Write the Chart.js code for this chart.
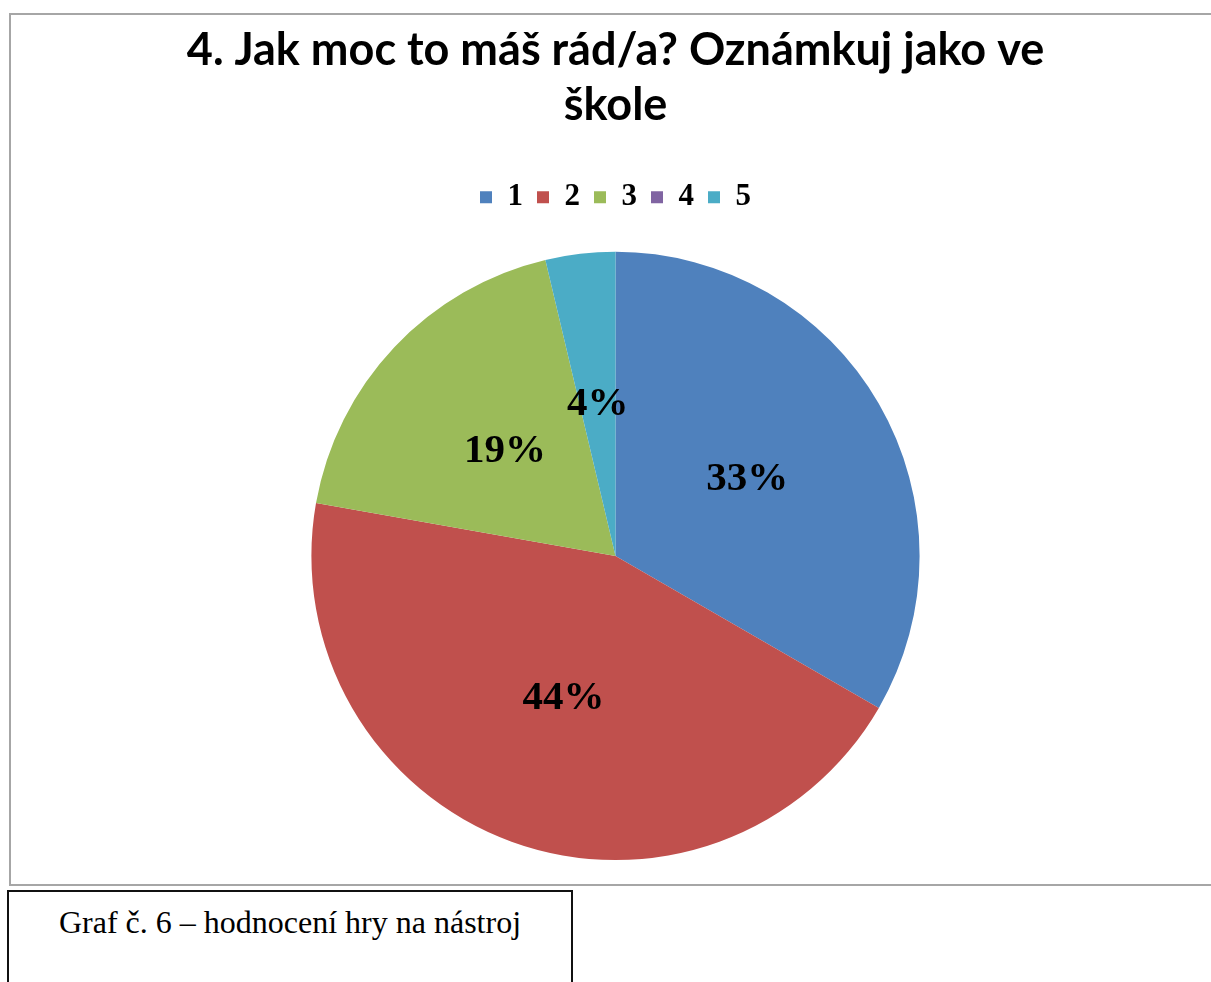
<!DOCTYPE html>
<html>
<head>
<meta charset="utf-8">
<script src="https://cdn.jsdelivr.net/npm/chart.js@4/dist/chart.umd.min.js"></script>
<style>
  html, body { margin: 0; padding: 0; background: #fff; width: 1211px; height: 982px; overflow: hidden; }
  #frame { position: absolute; left: 9px; top: 13px; width: 1220px; height: 873px; border: 2px solid #a6a6a6; box-sizing: border-box; }
  #wrap { position: absolute; left: 11px; top: 15px; width: 1209px; height: 871px; }
  #caption { position: absolute; left: 7px; top: 890px; width: 566px; height: 110px; border: 2px solid #111; box-sizing: border-box;
    font-family: "Liberation Serif", "Times New Roman", serif; font-size: 32px; text-align: center; padding-top: 12px; color: #000; }
</style>
</head>
<body>
<div id="frame"></div>
<div id="wrap"><canvas id="c"></canvas></div>
<div id="caption">Graf č. 6 – hodnocení hry na nástroj</div>
<script>
const categories = ["1", "2", "3", "4", "5"];
const counts = [9, 12, 5, 0, 1];
const colors = ["#4F81BD", "#C0504D", "#9BBB59", "#8064A2", "#4BACC6"];
const titleLines = ["4. Jak moc to máš rád/a? Oznámkuj jako ve", "škole"];

const pctLabels = {
  id: "pctLabels",
  afterDatasetsDraw(chart) {
    const ctx = chart.ctx;
    const meta = chart.getDatasetMeta(0);
    const data = chart.data.datasets[0].data;
    const total = data.reduce((a, b) => a + b, 0);
    ctx.save();
    ctx.font = "bold 41px 'Liberation Serif', 'Times New Roman', serif";
    ctx.fillStyle = "#000";
    ctx.textAlign = "center";
    ctx.textBaseline = "middle";
    meta.data.forEach((arc, i) => {
      if (!data[i]) return;
      const p = arc.getCenterPoint();
      ctx.fillText(Math.round(data[i] / total * 100) + "%", p.x, p.y);
    });
    ctx.restore();
  }
};

const legendSpace = {
  id: "legendSpace",
  beforeInit(chart) {
    const lg = chart.legend;
    if (!lg) return;
    const orig = lg.fit.bind(lg);
    lg.fit = function () { orig(); this.height += 29; };
  }
};

new Chart(document.getElementById("c"), {
  type: "pie",
  data: {
    labels: categories,
    datasets: [{ data: counts, backgroundColor: colors, borderWidth: 0 }]
  },
  options: {
    responsive: true,
    maintainAspectRatio: false,
    animation: false,
    layout: { padding: { top: 0, bottom: 26, left: 0, right: 0 } },
    plugins: {
      tooltip: { enabled: false },
      title: {
        display: true,
        text: titleLines,
        color: "#000",
        font: { family: "Lato, 'Open Sans', sans-serif", size: 45, weight: "bold", lineHeight: 1.22 },
        padding: { top: 8, bottom: 35 }
      },
      legend: {
        display: true,
        position: "top",
        labels: {
          color: "#000",
          boxWidth: 12,
          boxHeight: 12,
          padding: 14,
          font: { family: "'Liberation Serif', 'Times New Roman', serif", size: 31, weight: "bold" }
        }
      }
    }
  },
  plugins: [pctLabels, legendSpace]
});
</script>
</body>
</html>
